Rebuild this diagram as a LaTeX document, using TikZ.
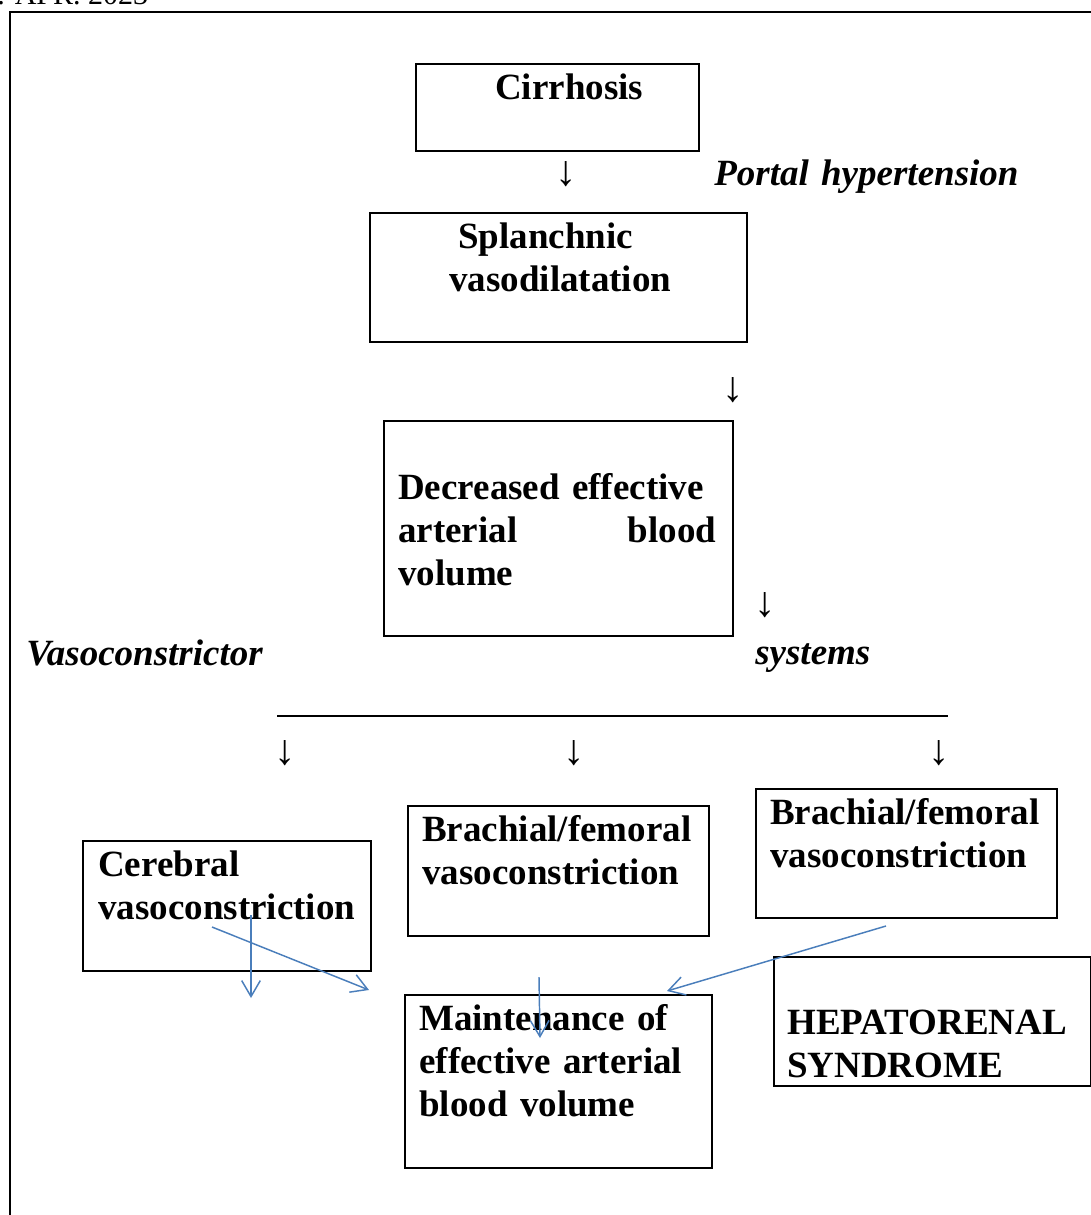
\documentclass[tikz,border=0pt]{standalone}
\usepackage{fontspec}
\setmainfont{Liberation Serif}
\usetikzlibrary{arrows.meta,positioning}
\definecolor{flowblue}{HTML}{4A7EBB}
\tikzset{
    frame/.style={draw,line width=1.5pt},
    box/.style={draw,line width=1.5pt,anchor=north west,inner sep=0pt},
    boxsize/.style 2 args={minimum width=#1*0.75pt,minimum height=#2*0.75pt},
    txt/.style={font=\fontsize{27.75}{32.25}\selectfont\bfseries,align=left,text width=250pt,anchor=base west,inner sep=0pt},
    itxt/.style={txt,font=\fontsize{27.75}{32.25}\selectfont\bfseries\itshape},
    down/.style={font=\fontsize{32}{36}\selectfont,inner sep=0pt},
    hdr/.style={font=\fontsize{22.5}{26}\selectfont,anchor=base west,inner sep=0pt},
    flow/.style={draw=flowblue,line width=1.1pt,-{Straight Barb[length=12pt,width=14pt]}},
}
\begin{document}
\begin{tikzpicture}[x=0.75pt,y=-0.75pt]
    \useasboundingbox (0,0) rectangle (1091,1215);

    % page frame and running head
    \coordinate (fbl) at (10,1240);
    \coordinate (ftl) at (10,12);
    \coordinate (ftr) at (1120,12);
    \draw[frame] (fbl) -- (ftl) -- (ftr);
    \node[hdr] (date) at (-3,4) {. APR. 2023};

    % boxes
    \node[box,boxsize={283}{87}] (cirr) at (415,63) {};
    \node[box,boxsize={377}{129}] (splanch) at (369,212) {};
    \node[box,boxsize={349}{215}] (deab) at (383,420) {};
    \node[box,boxsize={288}{130}] (cereb) at (82,840) {};
    \node[box,boxsize={301}{130}] (brach1) at (407,805) {};
    \node[box,boxsize={301}{129}] (brach2) at (755,788) {};
    \node[box,boxsize={307}{173}] (maint) at (404,994) {};
    \node[box,boxsize={317}{129}] (hrs) at (773,956) {};

    % box texts
    \node[txt] (cirrtxt) at (495,99) {Cirrhosis};
    \node[txt] (splanchtxt) at (449,248) {\hspace*{6.75pt}Splanchnic\\vasodilatation};
    \node[txt,text width=238.5pt] (deabtxt) at (398,499)
        {Decreased effective\\arterial\hfill blood\\volume};
    \node[txt] (cerebtxt) at (98,876) {Cerebral\\vasoconstriction};
    \node[txt] (brach1txt) at (422,841) {Brachial/femoral\\vasoconstriction};
    \node[txt] (brach2txt) at (770,824) {Brachial/femoral\\vasoconstriction};
    \node[txt] (mainttxt) at (419,1030) {Maintenance of\\effective arterial\\blood volume};
    \node[txt] (hrstxt) at (787,1034) {HEPATORENAL\\SYNDROME};

    % free labels
    \node[itxt] (portal) at (714,185) {Portal hypertension};
    \node[itxt] (vasoc) at (26,665) {Vasoconstrictor};
    \node[itxt] (systems) at (755,664) {systems};

    % down arrows typed as text
    \node[down] (d1) at (566,174) {↓};
    \node[down] (d2) at (733,390) {↓};
    \node[down] (d3) at (765,605) {↓};
    \node[down] (d4) at (285,753) {↓};
    \node[down] (d5) at (574,753) {↓};
    \node[down] (d6) at (939,753) {↓};

    % rule under the vasoconstrictor systems
    \coordinate (barL) at (277,716);
    \coordinate (barR) at (948,716);
    \draw[line width=1.5pt] (barL) -- (barR);

    % blue arrows
    \coordinate (c1a) at (251,915);
    \coordinate (c1b) at (251,998);
    \coordinate (c2a) at (212,927);
    \coordinate (c2b) at (369,990);
    \coordinate (m1a) at (539,977);
    \coordinate (m1b) at (540,1038);
    \coordinate (b2a) at (886,926);
    \coordinate (b2b) at (667,991);
    \path
    (c1a) edge[flow] (c1b)
    (c2a) edge[flow] (c2b)
    (m1a) edge[flow] (m1b)
    (b2a) edge[flow] (b2b);
\end{tikzpicture}
\end{document}
